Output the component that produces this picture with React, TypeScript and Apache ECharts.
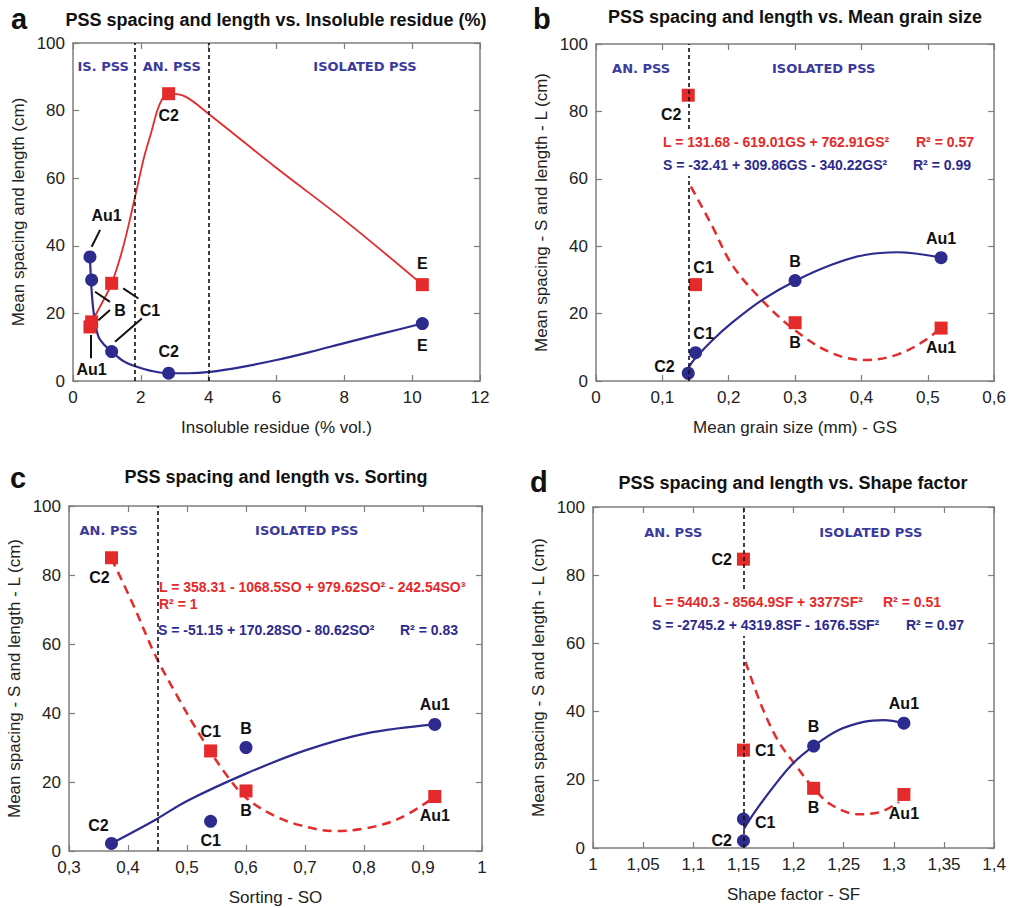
import { useEffect, useRef } from "react";
import * as echarts from "echarts";

// ---------- data ----------
// Panel a: insoluble residue
const irNames = ["Au1", "B", "C1", "C2", "E"];
const irX = [0.5, 0.55, 1.14, 2.82, 10.3];
const irS = [36.7, 29.9, 8.7, 2.3, 17];
const irL = [16, 17.5, 28.9, 85, 28.5];
const irFitLx = [0.55, 0.85, 1.14, 1.48, 1.83, 2.1, 2.3, 2.56, 2.82, 3.3, 4.04, 6.0, 8.0, 10.3];
const irFitLy = [17.5, 23, 28.9, 39.7, 54.5, 66.4, 73.3, 82, 85, 84.2, 78.7, 63, 47.6, 28.5];
const irFitSx = [0.5, 0.53, 0.57, 0.62, 0.75, 0.95, 1.14, 1.5, 1.88, 2.3, 2.82, 3.4, 4.04, 5.0, 6.0, 7.0, 8.0, 9.1, 10.3];
const irFitSy = [36.7, 30, 24, 19.5, 13.1, 10.4, 8.7, 5.8, 4.2, 3.0, 2.3, 2.3, 2.7, 4.2, 6.2, 8.6, 11.2, 14, 17];
const irLimits = [1.83, 4.0];

// Panel b: mean grain size
const sNames = ["C2", "C1", "B", "Au1"];
const gsX = [0.139, 0.15, 0.3, 0.52];
const gsS = [2.3, 8.4, 29.8, 36.6];
const gsL = [84.8, 28.6, 17.3, 15.7];
const gsFitLx = [0.143, 0.175, 0.205, 0.25, 0.3, 0.355, 0.405, 0.455, 0.5, 0.52];
const gsFitLy = [57.7, 46, 34.5, 24, 15, 8.3, 6.2, 7.9, 12.6, 16];
const gsFitSx = [0.14, 0.15, 0.175, 0.205, 0.25, 0.3, 0.355, 0.405, 0.455, 0.52];
const gsFitSy = [4.2, 6.8, 12, 17.3, 24, 29.7, 34.5, 37.4, 38.2, 36.6];
const gsLimits = [0.142];

// Panel c: sorting
const soX = [0.372, 0.54, 0.6, 0.92];
const soS = [2.2, 8.6, 30, 36.7];
const soL = [85, 29, 17.4, 15.8];
const soFitLx = [0.372, 0.409, 0.446, 0.4825, 0.522, 0.567, 0.601, 0.646, 0.691, 0.748, 0.804, 0.861, 0.92];
const soFitLy = [84.8, 71.3, 56.8, 45.2, 33.6, 22, 15.3, 10.4, 7.5, 5.8, 6.6, 9.5, 15.7];
const soFitSx = [0.372, 0.446, 0.5, 0.601, 0.703, 0.804, 0.92];
const soFitSy = [2.2, 9.0, 14.5, 22.5, 29.3, 34.1, 36.7];
const soLimits = [0.446];

// Panel d: shape factor
const sfX = [1.15, 1.15, 1.22, 1.31];
const sfS = [2.1, 8.5, 29.9, 36.6];
const sfL = [84.7, 28.7, 17.5, 15.7];
const sfFitLx = [1.152, 1.169, 1.185, 1.202, 1.22, 1.238, 1.264, 1.287, 1.305];
const sfFitLy = [54.6, 41, 31.2, 24.3, 17.5, 12.6, 9.9, 10.6, 13.5];
const sfFitSx = [1.15, 1.16, 1.18, 1.2, 1.22, 1.245, 1.27, 1.29, 1.31];
const sfFitSy = [5.4, 10, 18, 25, 29.9, 34.6, 37, 37.5, 36.6];
const sfLimits = [1.15];

const yTicks = { min: 0, max: 100, interval: 20 };

// ---------- styles ----------
const BLUE = "#2d2b8e";
const RED = "#e42a2a";
const REGION = "#3b3a9c";
const FRAME = "#7d7d7d";
const FONT = '"Liberation Sans", Arial, sans-serif';

const fmt = (v: number) => String(parseFloat(v.toFixed(3))).replace(".", ",");

const grids = [
  { left: 73, top: 43, width: 407, height: 338 },
  { left: 596, top: 44, width: 401, height: 337 },
  { left: 69, top: 506, width: 413, height: 345 },
  { left: 593, top: 507, width: 404, height: 341 },
];
const xSpecs = [
  { min: 0, max: 12, interval: 2, name: "Insoluble residue (% vol.)" },
  { min: 0, max: 0.6, interval: 0.1, name: "Mean grain size (mm) - GS" },
  { min: 0.3, max: 1, interval: 0.1, name: "Sorting - SO" },
  { min: 1, max: 1.4, interval: 0.05, name: "Shape factor - SF" },
];
const yNames = [
  "Mean spacing and length (cm)",
  "Mean spacing - S and length - L (cm)",
  "Mean spacing - S and length - L (cm)",
  "Mean spacing - S and length - L (cm)",
];

type Lab = { show: boolean; position?: string; offset?: number[] };
const L = (position: string, offset: number[] = [0, 0]): Lab => ({ show: true, position, offset });
const H: Lab = { show: false };

function buildOption() {
  const xAxis: any[] = [];
  const yAxis: any[] = [];
  grids.forEach((_, i) => {
    const xs = xSpecs[i];
    const common = {
      gridIndex: i,
      type: "value",
      splitLine: { show: false },
      axisLine: { show: true, onZero: false, lineStyle: { color: FRAME, width: 1.5 } },
      axisTick: { show: true, inside: true, length: 6, lineStyle: { color: FRAME, width: 1.2 } },
    };
    xAxis.push({
      ...common,
      position: "bottom",
      min: xs.min,
      max: xs.max,
      interval: xs.interval,
      name: xs.name,
      nameLocation: "middle",
      nameGap: 38,
      nameTextStyle: { fontFamily: FONT, fontSize: 17, color: "#222" },
      axisLabel: { formatter: fmt, fontFamily: FONT, fontSize: 17, color: "#222", margin: 8 },
    });
    xAxis.push({
      ...common,
      position: "top",
      min: xs.min,
      max: xs.max,
      interval: xs.interval,
      axisLabel: { show: false },
    });
    yAxis.push({
      ...common,
      position: "left",
      ...yTicks,
      name: yNames[i],
      nameLocation: "middle",
      nameGap: 46,
      nameTextStyle: { fontFamily: FONT, fontSize: 17, color: "#222" },
      axisLabel: { fontFamily: FONT, fontSize: 17, color: "#222", margin: 8 },
    });
    yAxis.push({ ...common, position: "right", ...yTicks, axisLabel: { show: false } });
  });

  const series: any[] = [];
  const ptLabel = { formatter: "{b}", color: "#111", fontFamily: FONT, fontSize: 16, fontWeight: "bold", distance: 5 };
  const zip = (a: number[], b: number[]) => a.map((x, k) => [x, b[k]]);

  const addPanel = (
    i: number,
    names: string[],
    xs: number[],
    S: number[],
    Lv: number[],
    fSx: number[],
    fSy: number[],
    fLx: number[],
    fLy: number[],
    dashed: boolean,
    limits: number[],
    labS: Lab[],
    labL: Lab[],
    regions: { name: string; value: number[] }[]
  ) => {
    const ax = { xAxisIndex: i * 2, yAxisIndex: i * 2 };
    series.push({
      type: "line",
      ...ax,
      data: zip(fLx, fLy),
      smooth: 0.35,
      showSymbol: false,
      symbol: "none",
      silent: true,
      z: 2,
      lineStyle: { color: RED, width: dashed ? 2.5 : 1.8, type: dashed ? [9, 6] : "solid" },
    });
    series.push({
      type: "line",
      ...ax,
      data: zip(fSx, fSy),
      smooth: 0.35,
      showSymbol: false,
      symbol: "none",
      silent: true,
      z: 2,
      lineStyle: { color: BLUE, width: 2.2 },
      markLine: {
        silent: true,
        symbol: ["none", "none"],
        label: { show: false },
        lineStyle: { color: "#111", width: 1.6, type: [4, 3] },
        data: limits.map((v) => ({ xAxis: v })),
      },
    });
    series.push({
      type: "scatter",
      ...ax,
      symbol: "circle",
      symbolSize: 13,
      z: 4,
      itemStyle: { color: BLUE, opacity: 1 },
      label: ptLabel,
      data: xs.map((x, k) => ({ value: [x, S[k]], name: names[k], label: labS[k] })),
    });
    series.push({
      type: "scatter",
      ...ax,
      symbol: "rect",
      symbolSize: 13,
      z: 4,
      itemStyle: { color: RED, opacity: 1 },
      label: ptLabel,
      data: xs.map((x, k) => ({ value: [x, Lv[k]], name: names[k], label: labL[k] })),
    });
    series.push({
      type: "scatter",
      ...ax,
      symbolSize: 1,
      silent: true,
      z: 5,
      itemStyle: { color: "rgba(0,0,0,0)", opacity: 1 },
      label: {
        show: true,
        position: "inside",
        formatter: "{b}",
        color: REGION,
        fontFamily: '"DejaVu Sans", Verdana, sans-serif',
        fontWeight: "bold",
        fontSize: 13,
      },
      data: regions,
    });
  };

  // a
  addPanel(
    0, irNames, irX, irS, irL, irFitSx, irFitSy, irFitLx, irFitLy, false, irLimits,
    [H, H, H, L("top", [0, -2]), L("bottom", [0, 2])],
    [H, H, H, L("bottom", [0, 2]), L("top", [0, -2])],
    [
      { name: "IS. PSS", value: [0.89, 93] },
      { name: "AN. PSS", value: [2.91, 93] },
      { name: "ISOLATED PSS", value: [8.61, 93] },
    ]
  );
  // annotation labels + leaders for panel a
  series.push({
    type: "scatter",
    xAxisIndex: 0,
    yAxisIndex: 0,
    symbolSize: 1,
    silent: true,
    z: 5,
    itemStyle: { color: "rgba(0,0,0,0)", opacity: 1 },
    label: { show: true, position: "inside", formatter: "{b}", color: "#111", fontFamily: FONT, fontSize: 16, fontWeight: "bold" },
    data: [
      { name: "Au1", value: [0.99, 49] },
      { name: "B", value: [1.39, 21] },
      { name: "C1", value: [2.27, 21] },
      { name: "Au1", value: [0.55, 3.3] },
    ],
    markLine: {
      silent: true,
      symbol: ["none", "none"],
      label: { show: false },
      lineStyle: { color: "#111", width: 2, type: "solid" },
      data: [
        [{ coord: [0.55, 39.7] }, { coord: [0.8, 44.7] }],
        [{ coord: [0.65, 26.4] }, { coord: [1.09, 23.4] }],
        [{ coord: [0.75, 18] }, { coord: [1.09, 21] }],
        [{ coord: [1.48, 27.4] }, { coord: [1.93, 24.4] }],
        [{ coord: [1.24, 11.6] }, { coord: [2.03, 18.5] }],
        [{ coord: [0.52, 13.6] }, { coord: [0.52, 6.7] }],
      ],
    },
  });
  // b
  addPanel(
    1, sNames, gsX, gsS, gsL, gsFitSx, gsFitSy, gsFitLx, gsFitLy, true, gsLimits,
    [L("left", [-2, -7]), L("top", [8, 0]), L("top"), L("top")],
    [L("bottom", [-17, 0]), L("top", [8, 2]), L("bottom"), L("bottom")],
    [
      { name: "AN. PSS", value: [0.068, 92.8] },
      { name: "ISOLATED PSS", value: [0.343, 92.8] },
    ]
  );
  // c
  addPanel(
    2, sNames, soX, soS, soL, soFitSx, soFitSy, soFitLx, soFitLy, true, soLimits,
    [L("top", [-13, 2]), L("bottom"), L("top"), L("top")],
    [L("bottom", [-12, 0]), L("top"), L("bottom"), L("bottom")],
    [
      { name: "AN. PSS", value: [0.367, 92.8] },
      { name: "ISOLATED PSS", value: [0.703, 92.8] },
    ]
  );
  // d
  addPanel(
    3, sNames, sfX, sfS, sfL, sfFitSx, sfFitSy, sfFitLx, sfFitLy, true, sfLimits,
    [L("left", [0, 0]), L("right", [0, 3]), L("top"), L("top")],
    [L("left"), L("right"), L("bottom"), L("bottom")],
    [
      { name: "AN. PSS", value: [1.08, 92.6] },
      { name: "ISOLATED PSS", value: [1.277, 92.6] },
    ]
  );

  const txt = (x: number, y: number, text: string, opts: any = {}) => ({
    type: "text",
    x,
    y,
    z: 60,
    silent: true,
    style: {
      text,
      fill: opts.fill || "#111",
      fontFamily: opts.fontFamily || FONT,
      fontSize: opts.fontSize || 14,
      fontWeight: opts.fontWeight || "normal",
      align: opts.align || "left",
      verticalAlign: "middle",
    },
  });
  const title = (x: number, y: number, t: string) => txt(x, y, t, { fontSize: 18, fontWeight: "bold", align: "center" });
  const letter = (x: number, y: number, t: string) => txt(x, y, t, { fontSize: 29, fontWeight: "bold" });
  const eq = (x: number, y: number, t: string, c: string) => txt(x, y, t, { fill: c, fontSize: 14, fontWeight: "bold" });

  const graphic: any[] = [
    letter(11, 19, "a"),
    title(276, 20, "PSS spacing and length vs. Insoluble residue (%)"),
    letter(533, 19, "b"),
    title(795, 17, "PSS spacing and length vs. Mean grain size"),
    letter(10, 478, "c"),
    title(276, 477, "PSS spacing and length vs. Sorting"),
    letter(530, 482, "d"),
    title(793, 483, "PSS spacing and length vs. Shape factor"),
    // white masks behind equations (b, d)
    { type: "rect", z: 55, silent: true, shape: { x: 660, y: 129, width: 320, height: 47 }, style: { fill: "#fff" } },
    { type: "rect", z: 55, silent: true, shape: { x: 649, y: 589, width: 320, height: 47 }, style: { fill: "#fff" } },
    eq(663, 142, "L = 131.68 - 619.01GS + 762.91GS²", RED),
    eq(916, 142, "R² = 0.57", RED),
    eq(663, 165, "S = -32.41 + 309.86GS - 340.22GS²", BLUE),
    eq(913, 165, "R² = 0.99", BLUE),
    eq(159, 587, "L = 358.31 - 1068.5SO + 979.62SO² - 242.54SO³", RED),
    eq(159, 604, "R² = 1", RED),
    eq(158, 630, "S = -51.15 + 170.28SO - 80.62SO²", BLUE),
    eq(400, 630, "R² = 0.83", BLUE),
    eq(653, 602, "L = 5440.3 - 8564.9SF + 3377SF²", RED),
    eq(883, 602, "R² = 0.51", RED),
    eq(652, 625, "S = -2745.2 + 4319.8SF - 1676.5SF²", BLUE),
    eq(906, 625, "R² = 0.97", BLUE),
  ];

  return {
    animation: false,
    backgroundColor: "#fff",
    grid: grids.map((g) => ({ ...g, containLabel: false })),
    xAxis,
    yAxis,
    series,
    graphic,
  };
}

export default function App() {
  const ref = useRef<HTMLDivElement>(null);
  useEffect(() => {
    if (!ref.current) return;
    const chart = echarts.init(ref.current, undefined, { renderer: "svg" });
    chart.setOption(buildOption() as any);
    return () => chart.dispose();
  }, []);
  return (
    <div
      ref={ref}
      style={{ position: "fixed", left: 0, top: 0, width: 1009, height: 908, background: "#fff" }}
    />
  );
}
